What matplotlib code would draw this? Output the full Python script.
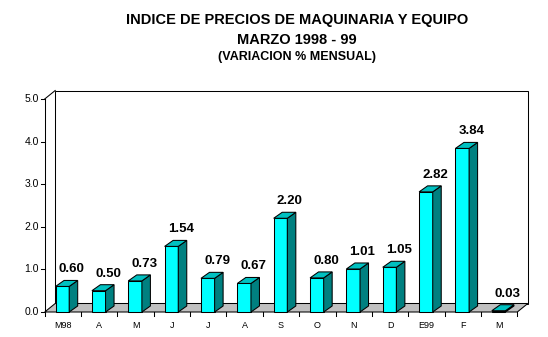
import matplotlib
matplotlib.use("Agg")
import matplotlib.pyplot as plt
from matplotlib.patches import Polygon

categories = ["M98", "A", "M", "J", "J", "A", "S", "O", "N", "D", "E99", "F", "M"]
values = [0.60, 0.50, 0.73, 1.54, 0.79, 0.67, 2.20, 0.80, 1.01, 1.05, 2.82, 3.84, 0.03]
yticks = [0.0, 1.0, 2.0, 3.0, 4.0, 5.0]
title_lines = ["INDICE DE PRECIOS DE MAQUINARIA Y EQUIPO", "MARZO 1998 - 99", "(VARIACION % MENSUAL)"]

W, H = 548, 337
fig = plt.figure(figsize=(W / 100, H / 100), dpi=100)
fig.patch.set_facecolor("white")

# axes placement in pixels
x_left, x_right = 44.7, 517.3
y_zero, y_top = 312.0, 99.0
ax = fig.add_axes([x_left / W, (H - y_zero) / H, (x_right - x_left) / W, (y_zero - y_top) / H])
n = len(categories)
ax.set_xlim(0, n)
ax.set_ylim(0, 5)
ax.axis("off")

px_x = n / (x_right - x_left)        # data units per pixel (x)
px_y = 5.0 / (y_zero - y_top)        # data units per pixel (y)

wdx, wdy = 10.5 * px_x, 8.5 * px_y   # wall depth
bdx, bdy = 8.5 * px_x, 6.0 * px_y    # bar depth
bw = 0.375

lw = 0.75
edge = "black"

# back wall
ax.add_patch(Polygon([(wdx, wdy), (wdx, 5 + wdy), (n + wdx, 5 + wdy), (n + wdx, wdy)],
                     closed=True, facecolor="white", edgecolor=edge, lw=lw, clip_on=False, zorder=1))
# left wall diagonal and axis line
ax.plot([0, wdx], [5, 5 + wdy], color=edge, lw=lw, clip_on=False, zorder=2)
ax.plot([0, 0], [0, 5], color=edge, lw=lw, clip_on=False, zorder=2)
# floor
ax.add_patch(Polygon([(0, 0), (n, 0), (n + wdx, wdy), (wdx, wdy)],
                     closed=True, facecolor="#C0C0C0", edgecolor=edge, lw=lw, clip_on=False, zorder=2))

# y ticks
tick_len_x = 4 * px_x
for t in yticks:
    ax.plot([-tick_len_x, 0], [t, t], color=edge, lw=lw, clip_on=False, zorder=2)
    ax.text(-6 * px_x, t, f"{t:.1f}", ha="right", va="center", fontsize=7.5,
            family="Liberation Sans", clip_on=False)

# x ticks
tick_len_y = 4 * px_y
for i in range(n + 1):
    ax.plot([i, i], [0, -tick_len_y], color=edge, lw=lw, clip_on=False, zorder=2)
for i, c in enumerate(categories):
    ax.text(i + 0.5, -13 * px_y, c, ha="center", va="center", fontsize=6.5,
            family="Liberation Sans", clip_on=False)

# bars
for i, v in enumerate(values):
    x0 = i + 0.5 - bw / 2 - 0.5 * px_x
    x1 = x0 + bw
    z = 3 + i * 0.01
    ax.add_patch(Polygon([(x0, 0), (x1, 0), (x1, v), (x0, v)], closed=True,
                         facecolor="#00FFFF", edgecolor=edge, lw=lw, clip_on=False, zorder=z))
    ax.add_patch(Polygon([(x1, 0), (x1 + bdx, bdy), (x1 + bdx, v + bdy), (x1, v)], closed=True,
                         facecolor="#008080", edgecolor=edge, lw=lw, clip_on=False, zorder=z))
    ax.add_patch(Polygon([(x0, v), (x1, v), (x1 + bdx, v + bdy), (x0 + bdx, v + bdy)], closed=True,
                         facecolor="#00C0C0", edgecolor=edge, lw=lw, clip_on=False, zorder=z))
    ax.text((x0 + x1 + bdx) / 2 + 5 * px_x, v + bdy + 5 * px_y, f"{v:.2f}",
            ha="center", va="bottom", fontsize=9.5, fontweight="bold",
            family="Liberation Sans", clip_on=False, zorder=5)

# titles
title_y = [20, 40, 57]
title_sizes = [10.5, 10.5, 9]
for t, yy, fs in zip(title_lines, title_y, title_sizes):
    fig.text(297 / W, 1 - yy / H, t, ha="center", va="center", fontsize=fs,
             fontweight="bold", family="Liberation Sans")

fig.savefig("out.png", dpi=100, facecolor="white")
